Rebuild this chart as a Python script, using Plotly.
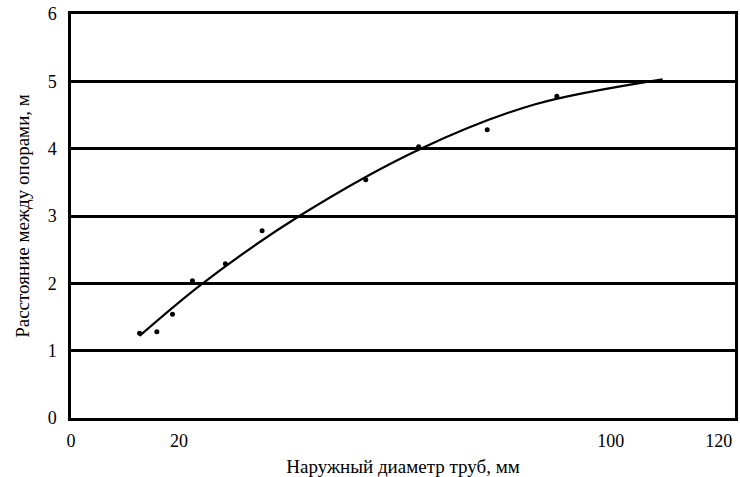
import plotly.graph_objects as go

# Measured data points
pts_x = [12.7, 15.9, 18.8, 22.5, 28.6, 35.4, 54.6, 64.4, 77.1, 90.0]
pts_y = [1.26, 1.28, 1.54, 2.04, 2.29, 2.78, 3.54, 4.03, 4.28, 4.78]

# Fitted curve
curve_x = [12.7, 24.4, 42.3, 64.8, 86.0, 109.6]
curve_y = [1.22, 2.0, 3.0, 4.0, 4.66, 5.03]

x_ticks = [0, 20, 100, 120]
y_ticks = [0, 1, 2, 3, 4, 5, 6]

x_title = "Наружный диаметр труб, мм"
y_title = "Расстояние между опорами, м"

font = "Liberation Serif"

fig = go.Figure()
fig.add_trace(go.Scatter(x=curve_x, y=curve_y, mode="lines",
                         line=dict(color="black", width=2.2, shape="spline", smoothing=0.9),
                         hoverinfo="skip", showlegend=False))
fig.add_trace(go.Scatter(x=pts_x, y=pts_y, mode="markers",
                         marker=dict(color="black", size=5),
                         showlegend=False))

fig.update_layout(
    width=740, height=477,
    margin=dict(l=71, r=2, t=14, b=55),
    paper_bgcolor="white", plot_bgcolor="white",
    font=dict(family=font, color="black", size=18),
)
fig.update_xaxes(
    range=[0, 123], tickvals=x_ticks, ticktext=[str(v) for v in x_ticks],
    showgrid=False, zeroline=False,
    showline=True, linecolor="black", linewidth=2.5, mirror=True,
    ticks="", ticklabelstandoff=5,
    tickfont=dict(family=font, size=18),
    title=dict(text=x_title, font=dict(family=font, size=19), standoff=10),
)
fig.update_yaxes(
    range=[0, 6], tickvals=y_ticks,
    showgrid=True, gridcolor="black", gridwidth=2.5, zeroline=False,
    showline=True, linecolor="black", linewidth=2.5, mirror=True,
    ticks="", ticklabelstandoff=8,
    tickfont=dict(family=font, size=18),
    title=dict(text=y_title, font=dict(family=font, size=19), standoff=14),
)

fig.write_html("out.html", config={"displayModeBar": False},
               post_script="document.body.style.margin='0';")
